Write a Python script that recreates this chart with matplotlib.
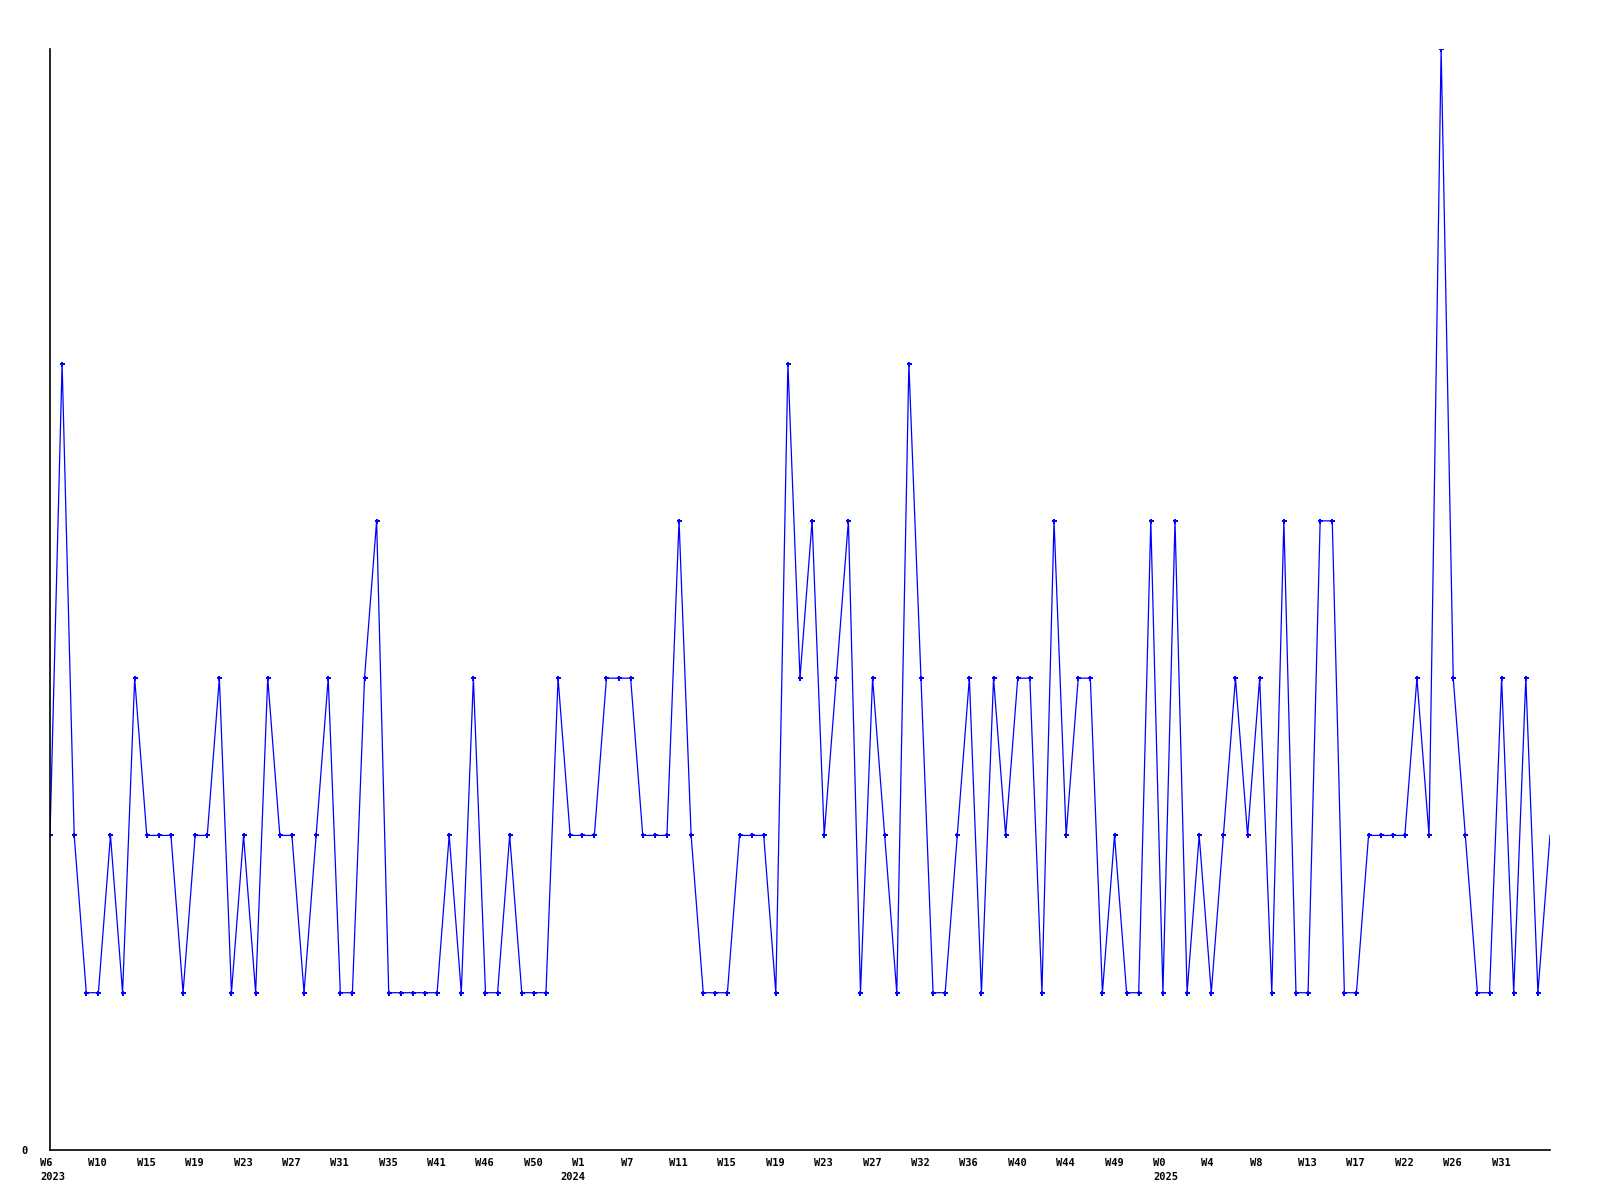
"""Weekly counts line chart, 2023 W6 onwards."""

import matplotlib
matplotlib.use("Agg")
import matplotlib.pyplot as plt
import matplotlib.transforms as mtransforms

# ---------------------------------------------------------------------------
# Data
# ---------------------------------------------------------------------------
COUNTS = [
    2, 5, 2, 1, 1, 2, 1, 3, 2, 2, 2, 1, 2, 2, 3, 1, 2, 1, 3, 2,
    2, 1, 2, 3, 1, 1, 3, 4, 1, 1, 1, 1, 1, 2, 1, 3, 1, 1, 2, 1,
    1, 1, 3, 2, 2, 2, 3, 3, 3, 2, 2, 2, 4, 2, 1, 1, 1, 2, 2, 2,
    1, 5, 3, 4, 2, 3, 4, 1, 3, 2, 1, 5, 3, 1, 1, 2, 3, 1, 3, 2,
    3, 3, 1, 4, 2, 3, 3, 1, 2, 1, 1, 4, 1, 4, 1, 2, 1, 2, 3, 2,
    3, 1, 4, 1, 1, 4, 4, 1, 1, 2, 2, 2, 2, 3, 2, 7, 3, 2, 1, 1,
    3, 1, 3, 1, 2,
]

WEEK_LABELS = [
    "W6", "W10", "W15", "W19", "W23", "W27", "W31", "W35", "W41", "W46",
    "W50", "W1", "W7", "W11", "W15", "W19", "W23", "W27", "W32", "W36",
    "W40", "W44", "W49", "W0", "W4", "W8", "W13", "W17", "W22", "W26",
    "W31",
]
LABEL_EVERY = 4

YEARS = ["2023", "2024", "2025"]
YEAR_START = [0, 43, 92]

LINE_COLOR = "#0000FF"
FONT = dict(family="DejaVu Sans Mono", fontsize=7.5, weight="bold")


def main() -> None:
    fig = plt.figure(figsize=(16, 12), dpi=100)
    ax = fig.add_axes([50 / 1600, 50 / 1200, 1500 / 1600, 1101 / 1200])

    x = list(range(len(COUNTS)))
    ax.plot(x, COUNTS, color=LINE_COLOR, linewidth=0.9,
            marker="P", markersize=3.6, markeredgewidth=0,
            markevery=list(range(len(COUNTS) - 1)))

    ax.set_xlim(0, len(COUNTS) - 1)
    ax.set_ylim(0, max(COUNTS))

    for side in ("top", "right"):
        ax.spines[side].set_visible(False)
    for side in ("left", "bottom"):
        ax.spines[side].set_linewidth(1.2)
        ax.spines[side].set_color("black")

    ax.set_yticks([0])
    ax.set_yticklabels(["0"], **FONT)
    ax.tick_params(axis="y", length=0, pad=16)
    ax.set_xticks([])

    # week labels left-aligned ~10px left of their point, year labels below
    base = mtransforms.blended_transform_factory(ax.transData, ax.transAxes)
    shift = mtransforms.ScaledTranslation(-10 / 100, 0, fig.dpi_scale_trans)
    for i, lab in enumerate(WEEK_LABELS):
        ax.text(i * LABEL_EVERY, -8 / 1101, lab, transform=base + shift,
                ha="left", va="top", clip_on=False, **FONT)
    for idx, yr in zip(YEAR_START, YEARS):
        ax.text(idx, -22 / 1101, yr, transform=base + shift,
                ha="left", va="top", clip_on=False, **FONT)

    fig.savefig("out.png", dpi=100, facecolor="white")
    plt.close(fig)


if __name__ == "__main__":
    main()
